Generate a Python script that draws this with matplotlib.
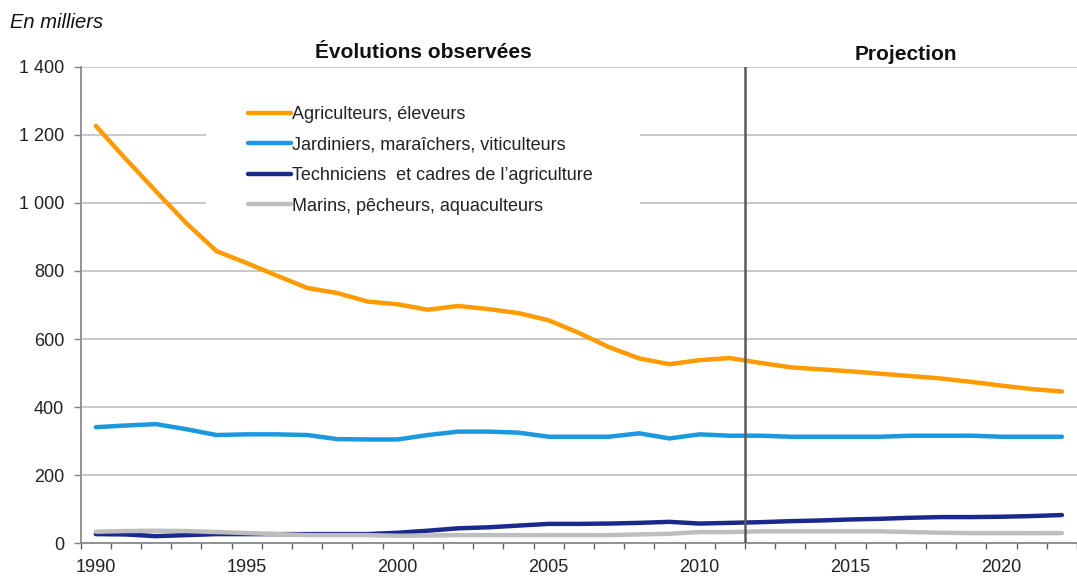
import matplotlib
matplotlib.use('Agg')
import matplotlib.pyplot as plt
from matplotlib.patches import Rectangle
from matplotlib.ticker import FuncFormatter

plt.rcParams['font.family'] = ['Liberation Sans', 'DejaVu Sans']

years = list(range(1990, 2023))

agri = [1226, 1128, 1033, 940, 858, 823, 786, 750, 735, 710,
        702, 686, 697, 688, 676, 655, 618, 576, 543, 526,
        538, 544, 530, 517, 511, 505, 498, 491, 484, 474,
        463, 453, 446]
jard = [341, 346, 350, 335, 318, 320, 320, 318, 306, 305,
        305, 318, 328, 328, 325, 313, 313, 313, 323, 308,
        320, 316, 316, 313, 313, 313, 313, 316, 316, 316,
        313, 313, 313]
tech = [27, 26, 21, 24, 27, 27, 27, 27, 27, 27,
        31, 37, 44, 47, 52, 57, 57, 58, 60, 63,
        58, 60, 62, 65, 67, 70, 72, 75, 77, 77,
        78, 80, 83]
marins = [34, 36, 37, 36, 33, 30, 27, 24, 24, 24,
          22, 23, 24, 24, 24, 24, 24, 24, 26, 28,
          33, 33, 35, 35, 35, 35, 35, 33, 31, 30,
          30, 30, 30]

names = ["Agriculteurs, éleveurs",
         "Jardiniers, maraîchers, viticulteurs",
         "Techniciens  et cadres de l’agriculture",
         "Marins, pêcheurs, aquaculteurs"]
colors = ["#FF9A00", "#1B98E0", "#1A2A8C", "#BEBEBE"]
split_year = 2011.5

W, H = 1077, 576
fig = plt.figure(figsize=(W / 100, H / 100), dpi=100)
x0, y0, y1 = 80.7, 543.3, 66.6
ax = fig.add_axes([x0 / W, (H - y0) / H, (W - x0) / W, (y0 - y1) / H])

px_per_year = 30.55
ax.set_xlim(1989.5, 1989.5 + (W - x0) / px_per_year)
ax.set_ylim(0, 1400)

ax.set_axisbelow(True)
ax.yaxis.grid(True, color="#C4C4C4", linewidth=1.3)
ax.set_yticks(range(0, 1401, 200))
ax.yaxis.set_major_formatter(FuncFormatter(lambda v, p: f"{int(v):,}".replace(",", " ")))

ax.set_xticks(range(1990, 2021, 5))
ax.set_xticks([y - 0.5 for y in years] + [years[-1] + 0.5], minor=True)
ax.tick_params(axis='x', which='major', length=0, pad=11, labelsize=13, labelcolor="#222222")
ax.tick_params(axis='x', which='minor', length=4, width=1, color="#606060", direction='out')
ax.tick_params(axis='y', length=5, width=1, color="#808080", pad=7, labelsize=13, labelcolor="#222222")

for s in ['top', 'right']:
    ax.spines[s].set_visible(False)
for s in ['left', 'bottom']:
    ax.spines[s].set_color("#8A8A8A")
    ax.spines[s].set_linewidth(1.3)

# white box behind the legend hides the gridlines
ax.add_patch(Rectangle(((206 - x0) / (W - x0), (y0 - 225) / (y0 - y1)),
                       (640 - 206) / (W - x0), (225 - 90) / (y0 - y1),
                       transform=ax.transAxes, facecolor='white', edgecolor='none', zorder=1))

series = [agri, jard, tech, marins]
for vals, name, c in zip(series, names, colors):
    ax.plot(years, vals, color=c, linewidth=3.2, label=name, zorder=3, solid_capstyle='round')

ax.axvline(split_year, color="#5A5A5A", linewidth=1.8, zorder=4)

leg = ax.legend(loc='upper left', bbox_to_anchor=(0.168, 0.917), frameon=False,
                fontsize=13, handlelength=2.4, handletextpad=0.05, labelspacing=0.75,
                borderaxespad=0, borderpad=0)
for t in leg.get_texts():
    t.set_color("#222222")

fig.text(423 / W, 1 - 53 / H, "Évolutions observées", ha='center', va='center',
         fontsize=15, fontweight='bold', color="#111111")
fig.text(906 / W, 1 - 54 / H, "Projection", ha='center', va='center',
         fontsize=15, fontweight='bold', color="#111111")
fig.text(10 / W, 1 - 23 / H, "En milliers", ha='left', va='center',
         fontsize=14.5, style='italic', color="#111111")

plt.savefig("out.png", dpi=100)
